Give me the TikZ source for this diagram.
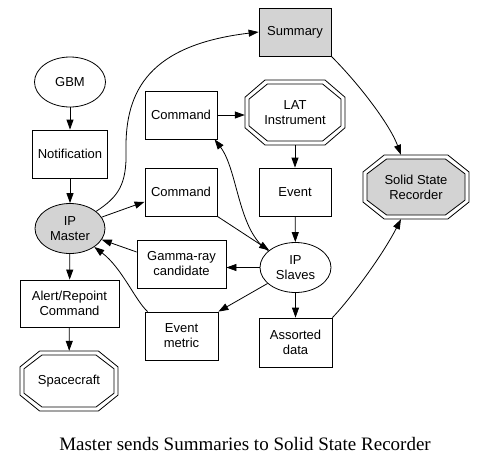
\documentclass[tikz,border=0pt]{standalone}
\usepackage{fontspec}
\setmainfont{Liberation Serif}
\setsansfont{Liberation Sans}
\usetikzlibrary{shapes.geometric,arrows.meta,calc,backgrounds}
\definecolor{nodegray}{RGB}{211,211,211}
\newcommand\octdraw[4]{%
  \path[draw, line width=0.8pt, fill=#4]
    ($(#1)+(-0.6*#2,-#3)$) -- ($(#1)+(0.6*#2,-#3)$) --
    ($(#1)+(#2,-0.47*#3)$) -- ($(#1)+(#2,0.47*#3)$) --
    ($(#1)+(0.6*#2,#3)$) -- ($(#1)+(-0.6*#2,#3)$) --
    ($(#1)+(-#2,0.47*#3)$) -- ($(#1)+(-#2,-0.47*#3)$) -- cycle;}
\begin{document}
\begin{tikzpicture}[x=1pt,y=-1pt,
  every node/.style={font=\sffamily\fontsize{13}{15}\selectfont, align=center, inner sep=0pt},
  box/.style={draw, line width=0.8pt, rectangle, minimum width=72pt, minimum height=48pt},
  ell/.style={draw, line width=0.8pt, ellipse, minimum width=71pt, minimum height=50pt},
  oct/.style={rectangle},
  arr/.style={-{Triangle[length=10pt,width=7pt]}, line width=0.8pt}]
\useasboundingbox (0,0) rectangle (487,467);
% nodes
\node[ell] (gbm) at (70,82) {GBM};
\node[box, minimum width=75pt] (notif) at (70,154) {Notification};
\node[ell, fill=nodegray, minimum width=70pt] (ipm) at (70,228.5) {IP\\Master};
\node[box, minimum width=99pt, minimum height=47pt] (alert) at (69.5,303.5) {Alert/Repoint\\Command};
\node[oct, minimum width=98pt, minimum height=60pt] (space) at (69,381) {Spacecraft};
\node[box] (cmd1) at (181,115) {Command};
\node[box] (cmd2) at (181,192) {Command};
\node[box, fill=nodegray] (summ) at (295,32) {Summary};
\node[oct, minimum width=100pt, minimum height=65pt] (lat) at (295,112.5) {LAT\\Instrument};
\node[box] (event) at (295,192) {Event};
\node[oct, minimum width=106pt, minimum height=64pt] (ssr) at (416,187) {Solid State\\Recorder};
\node[ell] (slaves) at (295.5,267.5) {IP\\Slaves};
\node[box, minimum width=73pt, minimum height=49pt] (assorted) at (295.5,342.5) {Assorted\\data};
\node[box, minimum width=89pt] (gamma) at (181.5,264) {Gamma-ray\\candidate};
\node[box, minimum width=73pt] (metric) at (181.5,336) {Event\\metric};
\node[font=\rmfamily\fontsize{19}{22}\selectfont] (cap) at (245,444) {Master sends Summaries to Solid State Recorder};
% octagons
\begin{scope}[on background layer]
\fill[white] (0,0) rectangle (487,467);
\octdraw{space}{49}{30}{white}
\octdraw{space}{45}{26}{white}
\octdraw{lat}{50}{32.5}{white}
\octdraw{lat}{46}{28.5}{white}
\octdraw{ssr}{53}{32}{white}
\octdraw{ssr}{49}{28}{nodegray}
\end{scope}
% edges
\coordinate (bendA) at (126,150);
\draw[arr] (gbm) -- (notif);
\draw[arr] (notif) -- (ipm);
\draw[arr] (ipm) -- (alert);
\draw[arr] (alert) -- (space);
\draw[arr] (ipm) .. controls (118,197) and (127,185) .. (bendA) .. controls (125,90) and (150,45) .. (summ.west);
\draw[arr] (summ.south east) .. controls (360,85) and (390,125) .. (ssr.115);
\draw[arr] (cmd1.east) -- (cmd1.east -| lat.west);
\draw[arr] (lat) -- (event);
\draw[arr] (event) -- (slaves);
\draw[arr] (slaves) -- (assorted);
\draw[arr] (slaves.west) -- (slaves.west -| gamma.east);
\draw[arr] (slaves) -- (metric.north east);
\draw[arr] (gamma.165) -- (ipm);
\draw[arr] ($(metric.north west)+(3,0)$) .. controls (135,300) and (122,268) .. (ipm);
\draw[arr] (ipm) -- (cmd2.195);
\draw[arr] (cmd2.south east) -- (slaves);
\draw[arr] (slaves) .. controls (238,232) and (238,170) .. (cmd1.-36);
\draw[arr] (assorted.north east) .. controls (345,305) and (380,260) .. (ssr.-115);
\end{tikzpicture}
\end{document}
